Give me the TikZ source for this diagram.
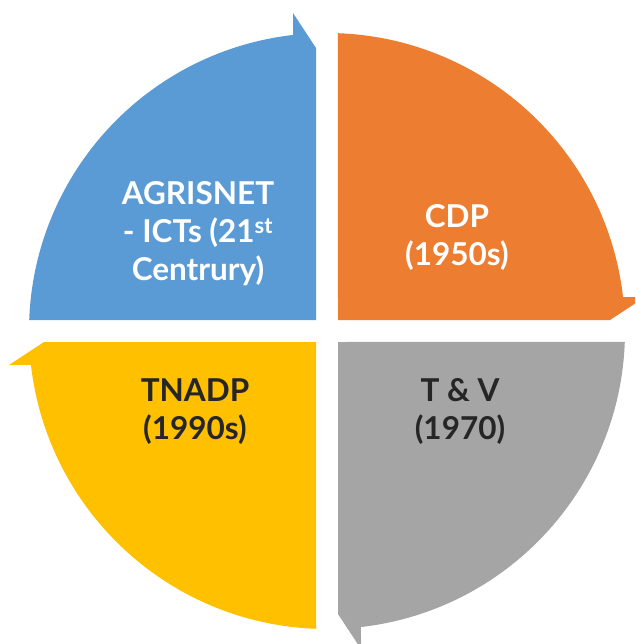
\documentclass[tikz,border=0pt]{standalone}
\usepackage{fontspec}
\setmainfont{Lato}
\definecolor{cblue}{HTML}{5B9BD5}
\definecolor{corange}{HTML}{ED7D31}
\definecolor{cgray}{HTML}{A5A5A5}
\definecolor{cyellow}{HTML}{FFC000}
\definecolor{cdark}{HTML}{262626}
\tikzset{
  seg/.style={draw=none},
  lbl/.style={align=center, font=\bfseries\fontsize{31.5}{38}\selectfont, inner sep=0pt},
}
\newcommand{\segshape}{(-11,11) -- (177.9:298) arc[start angle=177.9, end angle=96.55, radius=298] -- (-34,318) -- (-11,283) -- cycle}
\begin{document}
\begin{tikzpicture}[x=1pt,y=1pt]
\useasboundingbox (0,0) rectangle (635,-644);
\begin{scope}
\clip (0,0) rectangle (635,-644);
\begin{scope}[shift={(327,-331)}]
  \fill[cblue, seg] \segshape;
  \begin{scope}[rotate=-90]\fill[corange, seg] \segshape;\end{scope}
  \begin{scope}[rotate=-180]\fill[cgray, seg] \segshape;\end{scope}
  \begin{scope}[rotate=-270]\fill[cyellow, seg] \segshape;\end{scope}
\end{scope}
\end{scope}
\node[lbl, text=white] (agri) at (198,-234) {AGRISNET\\- ICTs (21\textsuperscript{st}\\Centrury)};
\node[lbl, text=white] (cdp) at (457,-237) {CDP\\(1950s)};
\node[lbl, text=cdark] (tnadp) at (195,-412) {TNADP\\(1990s)};
\node[lbl, text=cdark] (tv) at (460,-411) {T \& V\\(1970)};
\end{tikzpicture}
\end{document}
